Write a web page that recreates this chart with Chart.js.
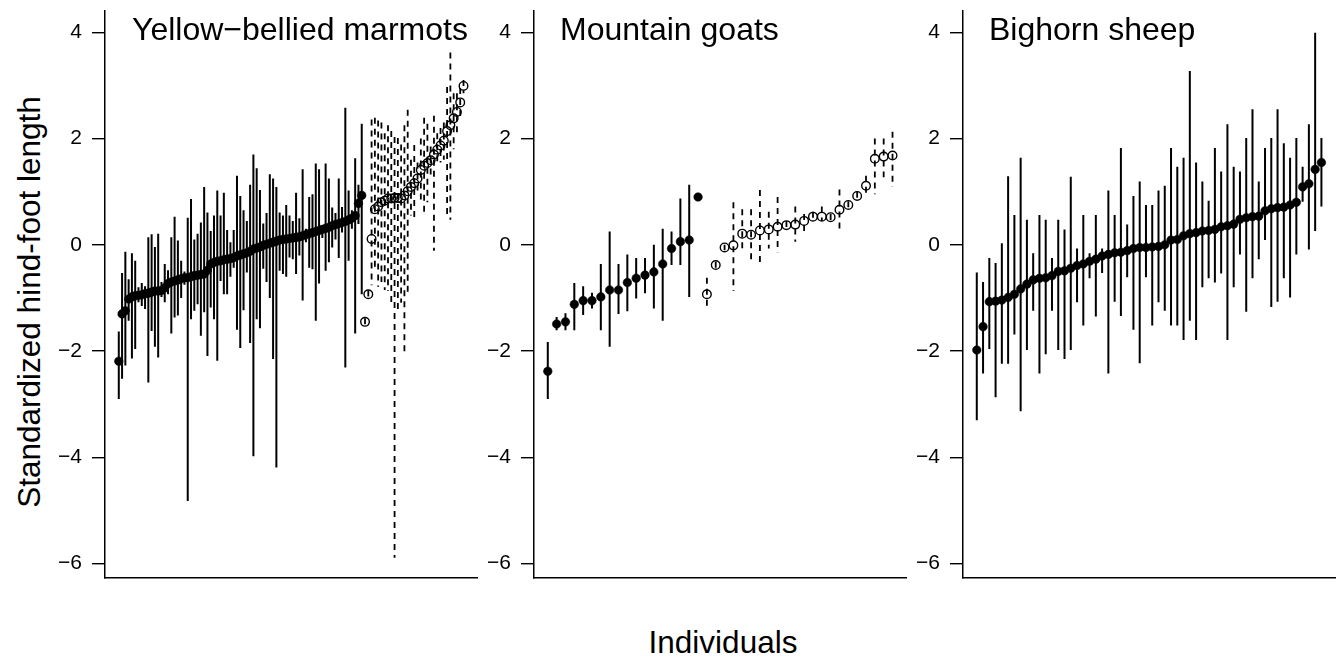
<!DOCTYPE html>
<html>
<head>
<meta charset="utf-8">
<title>Standardized hind-foot length by individual</title>
<script src="https://cdn.jsdelivr.net/npm/chart.js@4.4.1/dist/chart.umd.min.js"></script>
<style>
    html, body {
        margin: 0;
        padding: 0;
        background: #fff;
        overflow: hidden;
    }

    #figure {
        position: relative;
        width: 1340px;
        height: 657px;
        font-family: "Liberation Sans", Arial, Helvetica, sans-serif;
        color: #000;
    }

    #figure canvas {
        position: absolute;
        top: 0;
    }

    .panel-title {
        position: absolute;
        top: 13px;
        font-size: 32px;
        line-height: 32px;
        white-space: nowrap;
    }

    #yTitle {
        position: absolute;
        left: 29px;
        top: 302px;
        font-size: 31.5px;
        white-space: nowrap;
        transform: translate(-50%, -50%) rotate(-90deg);
    }

    #xTitle {
        position: absolute;
        left: 723px;
        top: 642px;
        font-size: 31.5px;
        white-space: nowrap;
        transform: translate(-50%, -50%);
    }
</style>
</head>
<body>

<div id="figure">
    <canvas id="marmotChart" width="428" height="600" style="left:55px"></canvas>
    <canvas id="goatChart" width="428" height="600" style="left:484px"></canvas>
    <canvas id="sheepChart" width="427" height="600" style="left:913px"></canvas>

    <div class="panel-title" style="left:132px">Yellow−bellied marmots</div>
    <div class="panel-title" style="left:560px">Mountain goats</div>
    <div class="panel-title" style="left:989px">Bighorn sheep</div>

    <div id="yTitle">Standardized hind-foot length</div>
    <div id="xTitle">Individuals</div>
</div>

<script>
"use strict";

/*==========================================================
    DATA
    solid = filled dot + solid bar, open = open dot + dashed bar
==========================================================*/

const yTickValues = [-6, -4, -2, 0, 2, 4];
const yTickLabels = ["−6", "−4", "−2", "0", "2", "4"];

// Yellow-bellied marmots
const marmotSolidMean = [
    -2.19, -1.30, -1.24, -1.02, -0.98, -0.96, -0.95, -0.94, -0.92, -0.91,
    -0.89, -0.87, -0.87, -0.86, -0.81, -0.73, -0.70, -0.68, -0.66, -0.64,
    -0.62, -0.62, -0.60, -0.58, -0.57, -0.56, -0.55, -0.48, -0.36, -0.33,
    -0.31, -0.30, -0.28, -0.27, -0.26, -0.24, -0.21, -0.19, -0.17, -0.15,
    -0.12, -0.08, -0.06, -0.04, -0.01, 0.01, 0.03, 0.05, 0.07, 0.09,
    0.10, 0.11, 0.12, 0.13, 0.14, 0.15, 0.17, 0.19, 0.21, 0.23,
    0.25, 0.27, 0.29, 0.31, 0.33, 0.36, 0.38, 0.40, 0.42, 0.44,
    0.47, 0.50, 0.55, 0.78, 0.93
];
const marmotSolidUpper = [
    -1.63, -0.53, -0.13, -0.65, -0.16, -0.30, -0.80, -0.72, -0.78, 0.14,
    0.20, -0.04, 0.21, -0.70, -0.36, -0.48, 0.14, 0.53, 0.08, -0.30,
    -0.50, 0.51, 0.86, 0.10, 0.21, 0.42, 1.09, 0.61, 0.26, 0.55,
    1.02, 0.55, 0.98, 0.28, 0.05, 0.28, 1.30, 0.92, 0.65, 0.45,
    1.13, 1.70, 1.44, 1.03, 0.40, 0.60, 1.33, 1.25, 1.09, 0.61,
    0.55, 0.75, 0.55, 0.45, 0.98, 0.50, 1.42, 0.30, 0.90, 0.95,
    1.53, 1.42, 0.37, 1.53, 1.25, 0.70, 0.60, 1.25, 0.71, 2.58,
    1.02, 0.65, 1.63, 1.13, 2.28
];
const marmotSolidLower = [
    -2.90, -2.52, -2.27, -1.43, -2.14, -1.96, -1.08, -1.15, -1.21, -2.59,
    -1.62, -1.92, -2.12, -0.98, -1.08, -0.93, -1.67, -1.37, -1.33, -1.00,
    -0.75, -4.82, -1.40, -1.24, -1.12, -1.71, -1.27, -2.09, -1.18, -1.40,
    -2.18, -0.68, -0.93, -0.93, -0.60, -0.43, -1.60, -1.94, -1.23, -0.52,
    -1.85, -3.98, -1.40, -1.57, -0.45, -0.70, -1.00, -2.15, -4.19, -0.49,
    -0.55, -0.60, -0.24, -0.27, -0.55, -0.20, -1.05, 0.05, -0.43, -0.46,
    -1.43, -0.73, 0.13, -0.49, -0.33, -0.05, 0.10, -0.25, 0.23, -2.31,
    -0.30, 0.30, -1.67, 0.39, -0.93
];
const marmotOpenMean = [
    -1.45, -0.93, 0.11, 0.67, 0.72, 0.80, 0.83, 0.87, 0.87, 0.88,
    0.88, 0.87, 0.93, 1.01, 1.09, 1.16, 1.25, 1.41, 1.49, 1.54,
    1.59, 1.70, 1.79, 1.87, 1.96, 2.14, 2.25, 2.38, 2.50, 2.68,
    2.99
];
const marmotOpenUpper = [
    -1.38, -0.86, 2.36, 2.39, 2.34, 2.30, 2.10, 2.25, 2.14, 2.03,
    2.01, 1.89, 2.25, 2.54, 1.60, 1.88, 1.55, 2.00, 2.39, 2.28,
    1.85, 2.43, 2.10, 2.20, 2.30, 2.97, 3.62, 2.85, 2.85, 2.95,
    3.10
];
const marmotOpenLower = [
    -1.52, -1.00, -0.76, -0.49, -0.79, -0.70, -0.85, -0.87, -1.09, -5.89,
    -1.27, -1.09, -2.03, -0.94, 0.55, 0.47, 0.95, 0.80, 0.58, 0.80,
    1.30, -0.11, 1.50, 1.55, 1.60, 0.58, 0.47, 1.80, 2.10, 2.40,
    2.85
];

// Mountain goats
const goatSolidMean = [
    -2.38, -1.49, -1.45, -1.12, -1.05, -1.05, -0.98, -0.85, -0.85, -0.71,
    -0.63, -0.57, -0.51, -0.36, -0.07, 0.06, 0.09, 0.90
];
const goatSolidUpper = [
    -1.83, -1.36, -1.29, -0.72, -0.78, -0.90, -0.36, 0.25, -0.36, -0.18,
    -0.25, -0.25, 0.00, 0.30, 0.25, 0.87, 1.13, 0.93
];
const goatSolidLower = [
    -2.90, -1.61, -1.61, -1.61, -1.32, -1.20, -1.61, -1.92, -1.30, -1.25,
    -1.01, -0.91, -1.20, -1.43, -0.38, -0.38, -0.98, 0.87
];
const goatOpenMean = [
    -0.93, -0.38, -0.05, -0.01, 0.21, 0.19, 0.27, 0.29, 0.34, 0.37,
    0.38, 0.45, 0.53, 0.53, 0.52, 0.66, 0.75, 0.92, 1.11, 1.62,
    1.66, 1.68
];
const goatOpenUpper = [
    -0.62, -0.32, 0.00, 0.80, 0.67, 0.67, 1.03, 0.62, 0.90, 0.45,
    0.72, 0.58, 0.62, 0.72, 0.58, 1.04, 0.82, 1.00, 1.30, 2.00,
    2.00, 2.13
];
const goatOpenLower = [
    -1.23, -0.44, -0.10, -0.87, -0.07, -0.28, -0.33, -0.07, -0.14, 0.30,
    0.06, 0.18, 0.45, 0.45, 0.46, 0.29, 0.70, 0.85, 0.97, 0.95,
    1.27, 1.09
];

// Bighorn sheep
const sheepSolidMean = [
    -1.98, -1.54, -1.07, -1.06, -1.04, -0.99, -0.93, -0.83, -0.74, -0.66,
    -0.63, -0.62, -0.58, -0.50, -0.49, -0.44, -0.39, -0.36, -0.31, -0.27,
    -0.21, -0.18, -0.15, -0.14, -0.11, -0.07, -0.05, -0.05, -0.04, -0.03,
    0.00, 0.09, 0.10, 0.17, 0.21, 0.23, 0.26, 0.27, 0.29, 0.34,
    0.36, 0.39, 0.48, 0.51, 0.53, 0.54, 0.64, 0.68, 0.70, 0.71,
    0.75, 0.80, 1.09, 1.15, 1.42, 1.55
];
const sheepSolidUpper = [
    -0.52, -0.70, -0.25, -0.34, 0.03, 1.29, 0.56, 1.64, 0.47, -0.16,
    0.56, 0.47, -0.25, 0.47, 0.29, 1.28, -0.07, 0.56, -0.16, 0.56,
    -0.07, 1.02, 0.56, 1.82, 0.38, 0.92, 1.19, 0.75, 0.75, 1.02,
    1.11, 1.82, 1.47, 1.64, 3.27, 1.55, 1.19, 0.83, 1.82, 1.38,
    2.27, 1.47, 1.38, 2.01, 2.55, 1.19, 1.82, 2.01, 2.55, 1.91,
    1.64, 2.01, 1.47, 2.27, 3.99, 2.01
];
const sheepSolidLower = [
    -3.30, -2.42, -1.96, -2.87, -2.24, -2.24, -1.69, -3.13, -1.98, -1.24,
    -2.42, -2.06, -1.24, -1.98, -2.15, -1.98, -1.08, -1.52, -0.63, -1.35,
    -0.53, -2.42, -1.07, -1.34, -0.61, -1.60, -2.23, -0.61, -1.52, -1.08,
    -1.24, -1.52, -1.52, -1.79, -1.43, -1.79, -0.80, -0.63, -0.71, -0.54,
    -1.79, -0.80, -0.18, -1.26, -0.63, -0.27, 0.09, -1.17, -1.07, -0.63,
    -0.99, -0.18, 0.81, -0.09, 0.26, 0.72
];



/*==========================================================
    ERROR BARS (drawn through the chart's own scales)
==========================================================*/

const errorBarPlugin = {

    id: "errorBars",

    beforeDatasetsDraw(chart) {

        const { ctx, chartArea } = chart;
        const xScale = chart.scales.x;
        const yScale = chart.scales.y;

        ctx.save();
        ctx.beginPath();
        ctx.rect(chartArea.left, chartArea.top, chartArea.width, chartArea.height);
        ctx.clip();

        chart.data.datasets.forEach((ds) => {

            ctx.strokeStyle = "#000";
            ctx.lineWidth = ds.errorWidth;
            ctx.lineCap = "butt";
            ctx.setLineDash(ds.errorDash || []);

            ds.data.forEach((p) => {

                const px = xScale.getPixelForValue(p.x);

                ctx.beginPath();
                ctx.moveTo(px, yScale.getPixelForValue(p.hi));
                ctx.lineTo(px, yScale.getPixelForValue(p.lo));
                ctx.stroke();

            });

        });

        ctx.restore();

    }

};



/*==========================================================
    HELPERS
==========================================================*/

function toPoints(mean, upper, lower, offset) {

    return mean.map((m, i) => ({
        x: offset + i + 1,
        y: m,
        hi: upper[i],
        lo: lower[i]
    }));

}

function solidDataset(points) {

    return {
        data: points,
        pointRadius: 4.3,
        pointBackgroundColor: "#000",
        pointBorderColor: "#000",
        pointBorderWidth: 0.5,
        errorWidth: 2,
        errorDash: []
    };

}

function openDataset(points) {

    return {
        data: points,
        pointRadius: 4.3,
        pointBackgroundColor: "rgba(0,0,0,0)",
        pointBorderColor: "#000",
        pointBorderWidth: 1.4,
        errorWidth: 1.8,
        errorDash: [6, 5]
    };

}

function buildPanel(canvasId, datasets, count) {

    const pad = 0.04 * (count - 1);
    const font = { family: "'Liberation Sans', Arial, sans-serif", size: 21 };

    return new Chart(document.getElementById(canvasId), {

        type: "scatter",

        data: { datasets: datasets },

        options: {

            responsive: false,
            animation: false,
            devicePixelRatio: 1,

            layout: { padding: { top: 11, left: 0, right: 0, bottom: 0 } },

            plugins: {
                legend: { display: false },
                tooltip: { enabled: false }
            },

            scales: {

                x: {
                    type: "linear",
                    min: 1 - pad,
                    max: count + pad,
                    ticks: { display: false },
                    grid: { display: false },
                    border: { display: true, color: "#000", width: 1.5 },
                    afterFit(scale) {
                        scale.height = 22;
                        scale.paddingLeft = 0;
                        scale.paddingRight = 0;
                    }
                },

                y: {
                    type: "linear",
                    min: -6.27,
                    max: 4.4,
                    afterBuildTicks(scale) {
                        scale.ticks = yTickValues.map((v) => ({ value: v }));
                    },
                    ticks: {
                        color: "#000",
                        font: font,
                        padding: 10,
                        callback: (value) => yTickLabels[yTickValues.indexOf(value)]
                    },
                    grid: {
                        display: true,
                        drawOnChartArea: false,
                        drawTicks: true,
                        tickLength: 13,
                        color: "#000",
                        lineWidth: 1.4
                    },
                    border: { display: true, color: "#000", width: 1.5 },
                    afterFit(scale) {
                        scale.width = 50;
                        scale.paddingTop = 0;
                        scale.paddingBottom = 0;
                    }
                }

            }

        },

        plugins: [errorBarPlugin]

    });

}



/*==========================================================
    BUILD
==========================================================*/

const marmotSolid = toPoints(marmotSolidMean, marmotSolidUpper, marmotSolidLower, 0);
const marmotOpen = toPoints(marmotOpenMean, marmotOpenUpper, marmotOpenLower, marmotSolidMean.length);

buildPanel("marmotChart",
    [solidDataset(marmotSolid), openDataset(marmotOpen)],
    marmotSolidMean.length + marmotOpenMean.length);

const goatSolid = toPoints(goatSolidMean, goatSolidUpper, goatSolidLower, 0);
const goatOpen = toPoints(goatOpenMean, goatOpenUpper, goatOpenLower, goatSolidMean.length);

buildPanel("goatChart",
    [solidDataset(goatSolid), openDataset(goatOpen)],
    goatSolidMean.length + goatOpenMean.length);

const sheepSolid = toPoints(sheepSolidMean, sheepSolidUpper, sheepSolidLower, 0);

buildPanel("sheepChart",
    [solidDataset(sheepSolid)],
    sheepSolidMean.length);
</script>

</body>
</html>
